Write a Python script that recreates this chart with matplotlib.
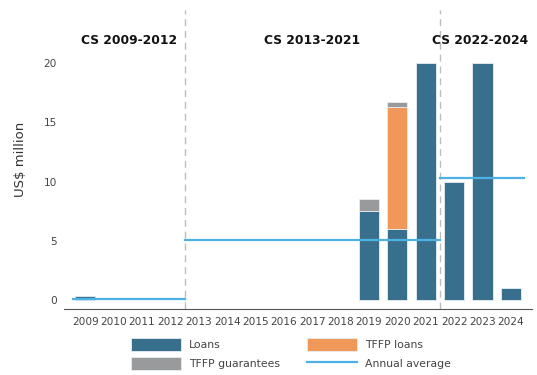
import matplotlib.pyplot as plt
import numpy as np

years = list(range(2009, 2025))
loans = [0.35, 0, 0, 0, 0, 0, 0, 0, 0, 0, 7.5, 6.0, 20.0, 10.0, 20.0, 1.0]
tffp_loans = [0, 0, 0, 0, 0, 0, 0, 0, 0, 0, 0, 10.25, 0, 0, 0, 0]
tffp_guarantees = [0, 0, 0, 0, 0, 0, 0, 0, 0, 0, 1.0, 0.45, 0, 0, 0, 0]

period_labels = ["CS 2009-2012", "CS 2013-2021", "CS 2022-2024"]
period_first = [2009, 2013, 2022]
period_last = [2012, 2021, 2024]
period_average = [0.09, 5.03, 10.33]

c_loans = "#386f8d"
c_tffp = "#f0975a"
c_guar = "#999a9b"
c_avg = "#4db1e6"
txt = "#444444"

fig = plt.figure(figsize=(5.37, 3.75), dpi=100)
ax = fig.add_axes([0.119, 0.176, 0.872, 0.797])

x = np.arange(len(years))
loans = np.array(loans)
tffp_loans = np.array(tffp_loans)
tffp_guarantees = np.array(tffp_guarantees)
w = 0.71
ec = dict(edgecolor="#e8eef2", linewidth=0.6)


def stack(values, bottom, color, label):
    # only draw years that have a value, so empty years stay blank
    m = values > 0
    ax.bar(x[m], values[m], w, bottom=bottom[m], color=color, label=label, **ec)


zero = np.zeros(len(years))
stack(loans, zero, c_loans, "Loans")
stack(tffp_guarantees, loans + tffp_loans, c_guar, "TFFP guarantees")
stack(tffp_loans, loans, c_tffp, "TFFP loans")

# period boundaries and average lines
for i, (lab, a, b, avg) in enumerate(zip(period_labels, period_first,
                                         period_last, period_average)):
    x0 = years.index(a) - 0.5
    x1 = years.index(b) + 0.5
    if i == 0:
        x0 = years.index(a) - 0.43
    if i == len(period_labels) - 1:
        x1 = years.index(b) + 0.46
    else:
        ax.axvline(x1, color="#bdbdbd", lw=1, ls=(0, (5, 3.5)), zorder=1)
    ax.plot([x0, x1], [avg, avg], color=c_avg, lw=1.6, zorder=5,
            label="Annual average" if i == 0 else None)

title_x = [1.54, 7.98, 13.93]
for tx, lab in zip(title_x, period_labels):
    ax.text(tx, 21.9, lab, ha="center", va="center",
            fontsize=8.8, fontweight="bold", color="#111111")

ax.set_xlim(-0.75, 15.75)
ax.set_ylim(-0.76, 24.47)
ax.set_xticks(x)
ax.set_xticklabels(years, fontsize=7.6, color=txt)
ax.set_yticks([0, 5, 10, 15, 20])
ax.set_yticklabels(["0", "5", "10", "15", "20"], fontsize=7.6, color=txt)
ax.tick_params(length=0, pad=5)
ax.tick_params(axis="x", pad=6)
for s in ["top", "right", "left"]:
    ax.spines[s].set_visible(False)
ax.spines["bottom"].set_color("#555555")
ax.spines["bottom"].set_linewidth(0.8)
ax.set_ylabel("US$ million", fontsize=9.5, color="#333333", labelpad=12)

handles, labels = ax.get_legend_handles_labels()
order = ["Loans", "TFFP guarantees", "TFFP loans", "Annual average"]
hmap = dict(zip(labels, handles))
fig.legend([hmap[k] for k in order], order, ncol=2, loc="upper left",
           bbox_to_anchor=(0.244, 0.098), frameon=False, fontsize=7.8,
           handlelength=4.6, handleheight=1.4, handletextpad=0.75,
           columnspacing=2.5, labelspacing=0.6, borderpad=0,
           borderaxespad=0, labelcolor=txt)

fig.savefig("out.png", dpi=100)
